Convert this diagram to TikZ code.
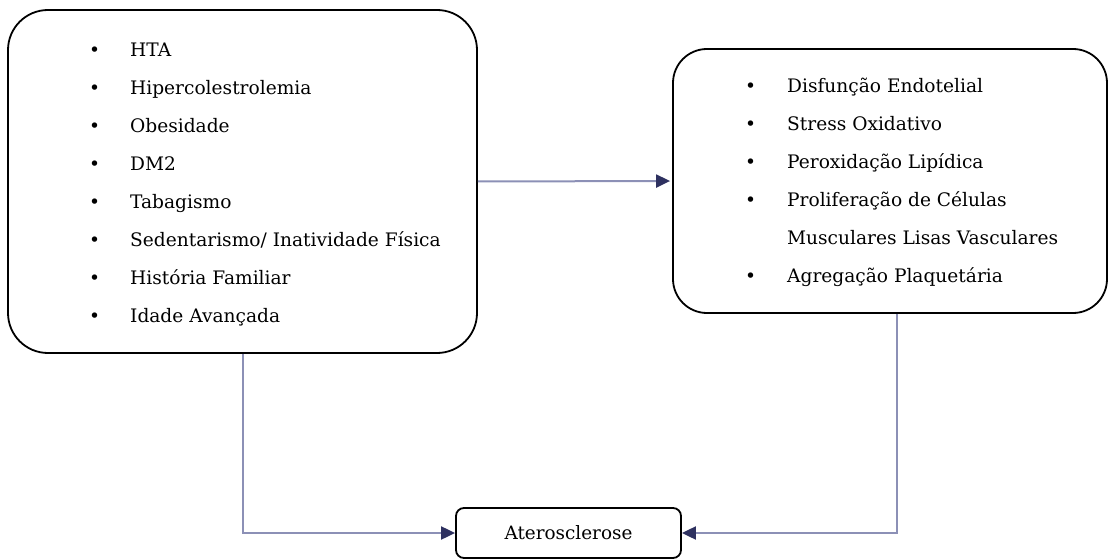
\documentclass[tikz,border=0pt]{standalone}
\usepackage{fontspec}
\setmainfont{DejaVu Serif}
\usetikzlibrary{positioning,arrows.meta,calc}

\definecolor{linkcol}{RGB}{140,144,182}
\definecolor{tipcol}{RGB}{46,49,96}

\tikzset{
  bigbox/.style={draw, line width=1.8pt, rounded corners=40pt},
  smallbox/.style={draw, line width=1.8pt, rounded corners=8pt, font=\fontsize{18.4}{20}\selectfont},
  listtext/.style={inner sep=0pt, anchor=base west, font=\fontsize{18.6}{38}\selectfont},
  link/.style={draw=linkcol, line width=2pt, -{Triangle[length=14pt,width=13pt,color=tipcol]}}
}

\begin{document}
\begin{tikzpicture}[x=1pt,y=-1pt]
\useasboundingbox (0,0) rectangle (1109,559);

% Boxes
\node[bigbox, minimum width=469pt, minimum height=343pt] (risk) at (242.5,181.5) {};
\node[bigbox, rounded corners=34pt, minimum width=434pt, minimum height=264pt] (mech) at (890,181) {};
\node[smallbox, minimum width=225pt, minimum height=50pt] (ather) at (568.5,533) {Aterosclerose};

% Lists
\node[listtext] (risklist) at (89,57) {%
  \begin{tabular}[t]{@{}l@{\hspace{30pt}}l@{}}
  \textbullet & HTA\\
  \textbullet & Hipercolestrolemia\\
  \textbullet & Obesidade\\
  \textbullet & DM2\\
  \textbullet & Tabagismo\\
  \textbullet & Sedentarismo/ Inatividade Física\\
  \textbullet & História Familiar\\
  \textbullet & Idade Avançada
  \end{tabular}};
\node[listtext] (mechlist) at (745,93) {%
  \begin{tabular}[t]{@{}l@{\hspace{31pt}}l@{}}
  \textbullet & Disfunção Endotelial\\
  \textbullet & Stress Oxidativo\\
  \textbullet & Peroxidação Lipídica\\
  \textbullet & Proliferação de Células\\
              & Musculares Lisas Vasculares\\
  \textbullet & Agregação Plaquetária
  \end{tabular}};

% Arrows
\draw[link, shorten >=2pt] (risk.east) -- (mech.west);
\draw[link] (risk.south) |- (ather.west);
\draw[link] ([xshift=7pt]mech.south) |- (ather.east);

\end{tikzpicture}
\end{document}
